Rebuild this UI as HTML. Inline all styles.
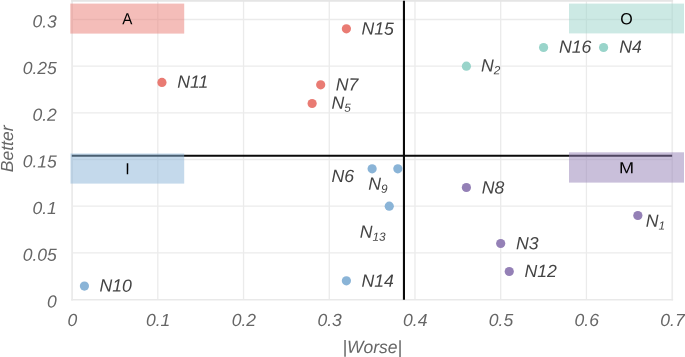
<!DOCTYPE html>
<html lang="en"><head><meta charset="utf-8"><title>Better vs |Worse|</title>
<style>
html,body{margin:0;padding:0;background:#fff;}
body{width:685px;height:357px;overflow:hidden;}
svg{display:block;will-change:transform;text-rendering:geometricPrecision;font-family:"Liberation Sans",sans-serif;}
.tick{font-size:17.5px;font-style:italic;fill:#666666;}
.lab{font-size:17.65px;font-style:italic;fill:#444444;}
.sub{font-size:11.8px;}
.box{font-size:16px;fill:#000;text-anchor:middle;}
.title{font-size:17.5px;font-style:italic;fill:#666666;text-anchor:middle;}
</style></head><body>
<svg width="685" height="357" viewBox="0 0 685 357">
<rect width="685" height="357" fill="#fff"/>
<g stroke="#ebebeb" stroke-width="1.3" fill="none">
<line x1="157.82" y1="1" x2="157.82" y2="299.50"/>
<line x1="243.54" y1="1" x2="243.54" y2="299.50"/>
<line x1="329.26" y1="1" x2="329.26" y2="299.50"/>
<line x1="414.98" y1="1" x2="414.98" y2="299.50"/>
<line x1="500.70" y1="1" x2="500.70" y2="299.50"/>
<line x1="586.42" y1="1" x2="586.42" y2="299.50"/>
<line x1="72.10" y1="252.84" x2="672.14" y2="252.84"/>
<line x1="72.10" y1="206.17" x2="672.14" y2="206.17"/>
<line x1="72.10" y1="159.50" x2="672.14" y2="159.50"/>
<line x1="72.10" y1="112.84" x2="672.14" y2="112.84"/>
<line x1="72.10" y1="66.18" x2="672.14" y2="66.18"/>
<line x1="72.10" y1="19.51" x2="672.14" y2="19.51"/>
</g>
<g fill="none">
<line x1="72.10" y1="0" x2="72.10" y2="300.40" stroke="#ebebeb" stroke-width="1.8"/>
<line x1="672.24" y1="0" x2="672.24" y2="300.40" stroke="#ededed" stroke-width="1.7"/>
<line x1="71.20" y1="0.8" x2="673.09" y2="0.8" stroke="#e5e5e5" stroke-width="1.8"/>
<line x1="71.20" y1="299.70" x2="673.09" y2="299.70" stroke="#e9e9e9" stroke-width="1.5"/>
</g>
<line x1="71.80" y1="155.8" x2="672.14" y2="155.8" stroke="#0a0a0a" stroke-width="1.9"/>
<line x1="403.95" y1="0.8" x2="403.95" y2="299.70" stroke="#0a0a0a" stroke-width="2.1"/>
<rect x="70.30" y="3.60" width="113.90" height="30.00" fill="#e97b73" fill-opacity="0.5"/>
<rect x="569.00" y="3.60" width="115.00" height="29.80" fill="#99d4ca" fill-opacity="0.5"/>
<rect x="70.50" y="153.50" width="113.70" height="30.10" fill="#8ab4d7" fill-opacity="0.5"/>
<rect x="569.00" y="152.30" width="115.00" height="30.30" fill="#9480b6" fill-opacity="0.5"/>
<text class="box" transform="translate(127.25,24.30) rotate(0.1) scale(0.95,1)">A</text>
<text class="box" transform="translate(626.50,24.20) rotate(0.1) scale(1.0,1)">O</text>
<text class="box" transform="translate(127.35,174.25) rotate(0.1) scale(1.0,1)">I</text>
<text class="box" transform="translate(626.50,173.15) rotate(0.1) scale(1.13,1)">M</text>
<circle cx="161.93" cy="82.41" r="4.6" fill="#e97b73"/>
<circle cx="346.40" cy="28.84" r="4.6" fill="#e97b73"/>
<circle cx="320.69" cy="84.84" r="4.6" fill="#e97b73"/>
<circle cx="312.12" cy="103.51" r="4.6" fill="#e97b73"/>
<circle cx="466.41" cy="66.18" r="4.6" fill="#99d4ca"/>
<circle cx="543.56" cy="47.51" r="4.6" fill="#99d4ca"/>
<circle cx="603.56" cy="47.51" r="4.6" fill="#99d4ca"/>
<circle cx="372.12" cy="168.84" r="4.6" fill="#8ab4d7"/>
<circle cx="397.84" cy="168.84" r="4.6" fill="#8ab4d7"/>
<circle cx="389.26" cy="206.17" r="4.6" fill="#8ab4d7"/>
<circle cx="346.40" cy="280.83" r="4.6" fill="#8ab4d7"/>
<circle cx="84.44" cy="286.06" r="4.6" fill="#8ab4d7"/>
<circle cx="466.41" cy="187.50" r="4.6" fill="#9480b6"/>
<circle cx="500.70" cy="243.50" r="4.6" fill="#9480b6"/>
<circle cx="509.27" cy="271.50" r="4.6" fill="#9480b6"/>
<circle cx="637.85" cy="215.50" r="4.6" fill="#9480b6"/>
<text class="lab" transform="translate(177.30,87.80) rotate(0.1)">N11</text>
<text class="lab" transform="translate(361.50,34.60) rotate(0.1)">N15</text>
<text class="lab" transform="translate(335.70,90.50) rotate(0.1)">N7</text>
<text class="lab" transform="translate(331.50,108.80) rotate(0.1)">N<tspan class="sub" dy="2.8">5</tspan></text>
<text class="lab" transform="translate(480.90,71.40) rotate(0.1)">N<tspan class="sub" dy="2.8">2</tspan></text>
<text class="lab" transform="translate(558.90,52.80) rotate(0.1)">N16</text>
<text class="lab" transform="translate(619.20,52.80) rotate(0.1)">N4</text>
<text class="lab" transform="translate(331.60,182.00) rotate(0.1)">N6</text>
<text class="lab" transform="translate(368.20,189.80) rotate(0.1)">N<tspan class="sub" dy="2.8">9</tspan></text>
<text class="lab" transform="translate(359.70,237.80) rotate(0.1)">N<tspan class="sub" dy="2.8">13</tspan></text>
<text class="lab" transform="translate(361.40,286.70) rotate(0.1)">N14</text>
<text class="lab" transform="translate(99.50,291.60) rotate(0.1)">N10</text>
<text class="lab" transform="translate(481.75,193.50) rotate(0.1)">N8</text>
<text class="lab" transform="translate(516.10,249.20) rotate(0.1)">N3</text>
<text class="lab" transform="translate(524.50,276.90) rotate(0.1)">N12</text>
<text class="lab" transform="translate(645.85,226.70) rotate(0.1)">N<tspan class="sub" dy="2.8">1</tspan></text>
<text class="tick" text-anchor="end" transform="translate(56.8,307.40) rotate(0.1)">0</text>
<text class="tick" text-anchor="end" transform="translate(56.8,260.74) rotate(0.1)">0.05</text>
<text class="tick" text-anchor="end" transform="translate(56.8,214.07) rotate(0.1)">0.1</text>
<text class="tick" text-anchor="end" transform="translate(56.8,167.41) rotate(0.1)">0.15</text>
<text class="tick" text-anchor="end" transform="translate(56.8,120.74) rotate(0.1)">0.2</text>
<text class="tick" text-anchor="end" transform="translate(56.8,74.08) rotate(0.1)">0.25</text>
<text class="tick" text-anchor="end" transform="translate(56.8,27.41) rotate(0.1)">0.3</text>
<text class="tick" text-anchor="middle" transform="translate(72.40,326.1) rotate(0.1)">0</text>
<text class="tick" text-anchor="middle" transform="translate(158.12,326.1) rotate(0.1)">0.1</text>
<text class="tick" text-anchor="middle" transform="translate(243.84,326.1) rotate(0.1)">0.2</text>
<text class="tick" text-anchor="middle" transform="translate(329.56,326.1) rotate(0.1)">0.3</text>
<text class="tick" text-anchor="middle" transform="translate(415.28,326.1) rotate(0.1)">0.4</text>
<text class="tick" text-anchor="middle" transform="translate(501.00,326.1) rotate(0.1)">0.5</text>
<text class="tick" text-anchor="middle" transform="translate(586.72,326.1) rotate(0.1)">0.6</text>
<text class="tick" text-anchor="middle" transform="translate(672.44,326.1) rotate(0.1)">0.7</text>
<text class="title" transform="translate(372.3,352.9) rotate(0.1)">|Worse|</text>
<text class="title" transform="translate(13.0,148.8) rotate(-89.9)">Better</text>
</svg>
</body></html>
